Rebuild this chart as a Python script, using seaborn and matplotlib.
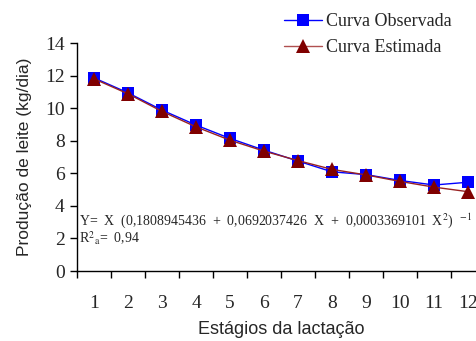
import matplotlib
matplotlib.use("Agg")
import matplotlib.pyplot as plt
import seaborn as sns
import pandas as pd
from matplotlib.lines import Line2D

stages = [1, 2, 3, 4, 5, 6, 7, 8, 9, 10, 11, 12]
observed = [11.86, 10.94, 9.88, 8.96, 8.14, 7.42, 6.75, 6.09, 5.92, 5.56, 5.28, 5.45]
estimated = [11.80, 10.88, 9.80, 8.85, 8.03, 7.36, 6.78, 6.24, 5.90, 5.50, 5.15, 4.87]
yticks = [0, 2, 4, 6, 8, 10, 12, 14]
labels = ["Curva Observada", "Curva Estimada"]

sns.set_theme(style="ticks")
plt.rcParams["mathtext.fontset"] = "stix"
serif = "Liberation Serif"
sans = "Liberation Sans"

fig = plt.figure(figsize=(4.77, 3.41), dpi=100)
ax = fig.add_axes([77 / 477, 70 / 341, 408 / 477, 228 / 341])

df = pd.DataFrame({"stage": stages * 2,
                   "value": observed + estimated,
                   "curve": [labels[0]] * 12 + [labels[1]] * 12})
blue = "#0000FF"
red = "#800000"
redline = "#992222"
sns.lineplot(data=df[df.curve == labels[0]], x="stage", y="value", ax=ax,
             color=blue, lw=1.0, marker="s", markersize=8.5, markeredgewidth=0,
             markerfacecolor=blue, legend=False)
sns.lineplot(data=df[df.curve == labels[1]], x="stage", y="value", ax=ax,
             color=redline, lw=1.0, marker="^", markersize=9.5, markeredgewidth=0,
             markerfacecolor=red, legend=False)

ax.set_xlim(0.5, 12.5)
ax.set_ylim(0, 14)
ax.set_yticks(yticks)
ax.set_yticklabels([str(t) for t in yticks], fontfamily=serif, fontsize=14)
ax.set_xticks([i + 0.5 for i in range(0, 13)])
ax.set_xticklabels([])
ax.set_xticks(stages, minor=True)
ax.set_xticklabels([str(s) for s in stages], minor=True, fontfamily=serif, fontsize=14)
ax.tick_params(axis="x", which="minor", length=0, pad=17)
ax.tick_params(axis="both", which="major", length=5, width=1, color="black", direction="out")
ax.tick_params(axis="y", pad=4)
for s in ["top", "right"]:
    ax.spines[s].set_visible(False)
for s in ["left", "bottom"]:
    ax.spines[s].set_color("black")
    ax.spines[s].set_linewidth(1)

ax.set_xlabel("Estágios da lactação", fontfamily=sans, fontsize=13, labelpad=7)
ax.set_ylabel("Produção de leite (kg/dia)", fontfamily=sans, fontsize=12.5, labelpad=9)

eq = ax.text(0.005, 0.22,
             r"Y=  X  (0,1808945436  +  0,0692037426  X  +  0,0003369101  X$^{2}$)  $^{-1}$",
             transform=ax.transAxes, fontfamily=serif, fontsize=10, ha="left", va="center")
r2 = ax.text(0.005, 0.145, r"R$^{2}$$_{\mathrm{a}}$=  0,94",
             transform=ax.transAxes, fontfamily=serif, fontsize=10, ha="left", va="center")

# fit equation width to the reference span (about 396 px)
fig.canvas.draw()
w = eq.get_window_extent(fig.canvas.get_renderer()).width
fs = 10 * 394.0 / w
eq.set_fontsize(fs)
r2.set_fontsize(fs)

handles = [Line2D([], [], color=blue, lw=1.0, marker="s", markersize=9, markeredgewidth=0),
           Line2D([], [], color="#B05050", lw=1.0, marker="^", markersize=10,
                  markeredgewidth=0, markerfacecolor=red)]
fig.legend(handles, labels, loc="upper left", bbox_to_anchor=(284 / 477, 1 - 13 / 341),
           frameon=False, prop={"family": serif, "size": 13}, handlelength=2.1,
           handletextpad=0.2, labelspacing=0.5, borderaxespad=0, borderpad=0)

fig.savefig("out.png", dpi=100)
